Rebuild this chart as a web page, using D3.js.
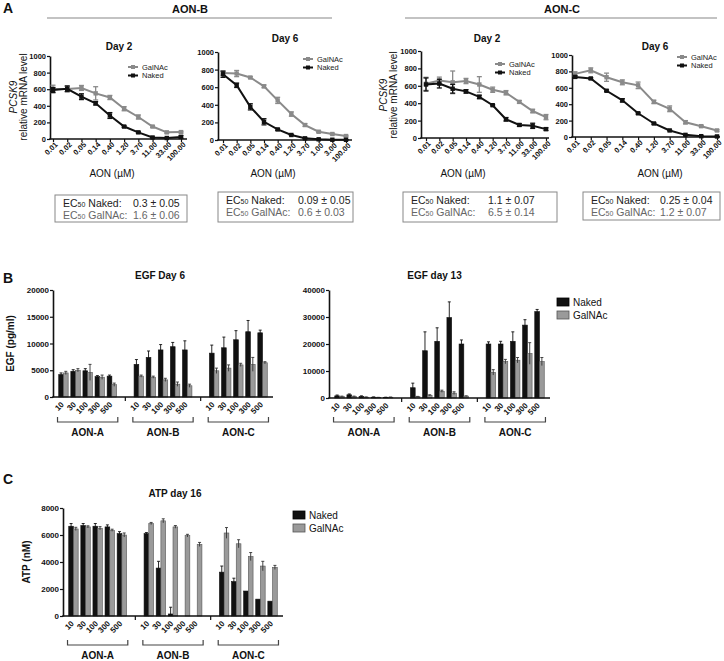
<!DOCTYPE html>
<html><head><meta charset="utf-8">
<script src="https://cdn.jsdelivr.net/npm/d3@7"></script>
<style>body{margin:0;background:#fff}</style>
</head><body><svg id="c" width="724" height="661"></svg>
<script>
// ---------------- DATA ----------------
const dosesA = ["0.01","0.02","0.05","0.14","0.40","1.20","3.70","11.00","33.00","100.00"];
const dosesA_B6 = ["0.01","0.02","0.05","0.14","0.40","1.20","3.70","1.00","3.00","100.00"];
const yTicksA = [0,200,400,600,800,1000];

const aonB_d2_galnac = [603,603,615,550,500,365,265,150,80,83];
const aonB_d2_galnacErr = [45,30,30,80,25,25,25,10,10,10];
const aonB_d2_naked = [590,605,510,430,283,150,80,18,12,25];
const aonB_d2_nakedErr = [30,35,35,20,35,10,10,5,5,15];

const aonB_d6_galnac = [760,755,710,610,450,295,170,94,68,45];
const aonB_d6_galnacErr = [25,35,10,15,35,25,15,10,8,8];
const aonB_d6_naked = [747,622,377,207,120,57,19,8,3,2];
const aonB_d6_nakedErr = [35,25,35,35,10,5,5,3,2,2];

const aonC_d2_galnac = [623,660,640,655,615,555,520,415,310,240];
const aonC_d2_galnacErr = [75,40,130,30,90,30,25,15,20,30];
const aonC_d2_naked = [615,625,566,536,472,377,215,150,140,102];
const aonC_d2_nakedErr = [75,50,50,20,20,8,20,15,30,15];

const aonC_d6_galnac = [770,813,729,667,630,428,344,180,132,80];
const aonC_d6_galnacErr = [25,30,50,30,40,20,35,20,10,10];
const aonC_d6_naked = [733,714,564,447,289,165,80,26,10,7];
const aonC_d6_nakedErr = [15,10,10,20,10,10,5,5,3,3];

const ec50Naked = ["0.3 ± 0.05","0.09 ± 0.05","1.1 ± 0.07","0.25 ± 0.04"];
const ec50GalNAc = ["1.6 ± 0.06","0.6 ± 0.03","6.5 ±  0.14","1.2 ± 0.07"];

const groups = ["AON-A","AON-B","AON-C"];
const doseB = ["10","30","100","300","500"];
const seriesNames = ["Naked","GalNAc"];

const egf6_naked    = [4200,4800,4900,3800,3900, 6100,7400,8800,9400,8800, 8200,9200,10700,12200,12000];
const egf6_nakedErr = [300,300,400,200,200, 900,1200,1000,800,1700, 1500,2000,1700,2100,500];
const egf6_galnac   = [4500,5000,4600,3700,2300, 3900,3700,3200,2400,2100, 4900,5400,6000,6100,6400];
const egf6_galnacErr= [300,300,1500,400,300, 200,200,300,400,300, 500,600,300,1300,200];
const egf6_ticks = [0,5000,10000,15000,20000];

const egf13_naked    = [800,1200,600,300,200, 3800,17500,21000,29800,20000, 20000,20000,21000,27000,32000];
const egf13_nakedErr = [300,300,200,100,100, 1700,7000,5000,5800,1500, 800,1000,3500,2000,800];
const egf13_galnac   = [600,600,300,200,300, 500,1000,2500,1800,700, 9500,13500,14000,16500,13500];
const egf13_galnacErr= [100,100,100,50,50, 100,200,400,500,100, 1000,800,1000,4000,1500];
const egf13_ticks = [0,10000,20000,30000,40000];

const atp_naked    = [6650,6700,6650,6600,6100, 6100,3550,150,0,0, 3250,2550,1850,1250,1100];
const atp_nakedErr = [200,150,200,150,150, 80,500,500,0,0, 450,250,0,0,0];
const atp_galnac   = [6450,6600,6500,6350,6000, 6850,7050,6600,5950,5300, 6150,5350,4400,3700,3600];
const atp_galnacErr= [120,80,120,80,150, 80,150,100,100,150, 400,300,300,350,150];
const atp_ticks = [0,2000,4000,6000,8000];

// ---------------- DRAWING ----------------
const FONT = '"Liberation Sans", Arial, Helvetica, sans-serif';
const svg = d3.select("#c");
svg.append("rect").attr("width",724).attr("height",661).attr("fill","#fff");
const GREY = "#8a8a8a", BLACK = "#111";
const fmt = d3.format("d");

function txt(x,y,s,size,opts={}) {
  const t = svg.append("text").attr("x",x).attr("y",y).attr("font-family",FONT)
    .attr("font-size",size).attr("fill",opts.fill||BLACK)
    .attr("font-weight",opts.bold?"bold":"normal")
    .attr("text-anchor",opts.anchor||"start");
  if (opts.italic) t.attr("font-style","italic");
  if (opts.rotate) t.attr("transform",`rotate(${opts.rotate},${x},${y})`);
  t.text(s);
  return t;
}
function styleAxis(sel,size){
  sel.attr("font-family",FONT);
  sel.selectAll("text").attr("font-family",FONT).attr("font-size",size).attr("font-weight","bold").attr("fill",BLACK);
  sel.selectAll(".tick line").attr("stroke",BLACK).attr("stroke-width",1.2);
  sel.select(".domain").attr("stroke",BLACK).attr("stroke-width",1.6);
}

// Panel letters and headers
txt(3,13,"A",14,{bold:true});
txt(3,283,"B",14,{bold:true});
txt(3,484,"C",14,{bold:true});
svg.append("line").attr("x1",47).attr("x2",332).attr("y1",18).attr("y2",18).attr("stroke","#888").attr("stroke-width",1.2);
txt(190,13,"AON-B",11,{bold:true,anchor:"middle"});
svg.append("line").attr("x1",405).attr("x2",717).attr("y1",18).attr("y2",18).attr("stroke","#888").attr("stroke-width",1.2);
txt(562,13,"AON-C",11,{bold:true,anchor:"middle"});

const LA = [
 {ax:50, ax1:187, p0:53, p1:181, yt:56, yb:139, tx:119, ty:50, title:"Day 2", lgx:128, lgy:67, axx:112, box:[55,195,132,27], vx:133, ylab:[17,27,97]},
 {ax:218, ax1:352, p0:223, p1:346, yt:52, yb:140, tx:285, ty:42, title:"Day 6", lgx:303, lgy:59, axx:273, box:[218,192,135,30], vx:298},
 {ax:421, ax1:549, p0:426, p1:546, yt:51, yb:138, tx:487, ty:42, title:"Day 2", lgx:495, lgy:64, axx:463, box:[403,192,154,30], vx:488, ylab:[387,397,95]},
 {ax:572, ax1:720, p0:575, p1:717, yt:55, yb:137, tx:655, ty:50, title:"Day 6", lgx:677, lgy:57, axx:660, box:[583,192,137,28], vx:660}
];

function drawCurve(L, labels, gal, galE, nak, nakE, ecN, ecG){
  const x = d3.scalePoint().domain(labels).range([L.p0,L.p1]);
  const y = d3.scaleLinear().domain([0,1000]).range([L.yb,L.yt]);
  const g = svg.append("g");
  const ya = g.append("g").attr("transform",`translate(${L.ax},0)`)
    .call(d3.axisLeft(y).tickValues(yTicksA).tickFormat(fmt).tickSize(3).tickPadding(1).tickSizeOuter(0));
  styleAxis(ya,7.5);
  const xa = g.append("g").attr("transform",`translate(0,${L.yb})`)
    .call(d3.axisBottom(x).tickSize(3).tickSizeOuter(0));
  xa.select(".domain").remove();
  styleAxis(xa,7.5);
  xa.selectAll("text").attr("x",-1).attr("y",5).attr("dy","0.35em")
    .attr("text-anchor","end").attr("transform","rotate(-45)");
  g.append("line").attr("x1",L.ax-0.8).attr("x2",L.ax1).attr("y1",L.yb).attr("y2",L.yb)
    .attr("stroke",BLACK).attr("stroke-width",1.6);

  function series(vals,errs,col){
    const pts = labels.map((l,i)=>({x:x(l),v:vals[i],e:errs[i]}));
    g.append("path").datum(pts).attr("d",d3.line().x(d=>d.x).y(d=>y(d.v)))
      .attr("fill","none").attr("stroke",col).attr("stroke-width",2);
    const eb = g.append("g").attr("stroke",col).attr("stroke-width",1.3);
    pts.forEach(d=>{
      eb.append("line").attr("x1",d.x).attr("x2",d.x).attr("y1",y(Math.max(0,d.v-d.e))).attr("y2",y(d.v+d.e));
      [d.v+d.e, Math.max(0,d.v-d.e)].forEach(v=>eb.append("line").attr("x1",d.x-2.5).attr("x2",d.x+2.5).attr("y1",y(v)).attr("y2",y(v)));
    });
    g.append("g").selectAll("rect").data(pts).join("rect")
      .attr("x",d=>d.x-2.2).attr("y",d=>y(d.v)-2.2).attr("width",4.4).attr("height",4.4).attr("fill",col);
  }
  series(gal,galE,GREY);
  series(nak,nakE,BLACK);

  txt(L.tx,L.ty,L.title,10,{bold:true,anchor:"middle"});
  // legend
  [[seriesNames[1],GREY,L.lgy],[seriesNames[0],BLACK,L.lgy+8.5]].forEach(([n,c,yy])=>{
    svg.append("line").attr("x1",L.lgx).attr("x2",L.lgx+10).attr("y1",yy).attr("y2",yy).attr("stroke",c).attr("stroke-width",2);
    svg.append("rect").attr("x",L.lgx+3).attr("y",yy-2).attr("width",4).attr("height",4).attr("fill",c);
    txt(L.lgx+14,yy+2.6,n,7.5,{fill:"#222"});
  });
  txt(L.axx,177,"AON (µM)",10,{anchor:"middle"});
  if (L.ylab){
    txt(L.ylab[0],L.ylab[2],"PCSK9",10,{italic:true,anchor:"middle",rotate:-90});
    txt(L.ylab[1],L.ylab[2],"relative mRNA level",10,{anchor:"middle",rotate:-90});
  }
  const b = L.box;
  svg.append("rect").attr("x",b[0]).attr("y",b[1]).attr("width",b[2]).attr("height",b[3])
    .attr("fill","none").attr("stroke","#888").attr("stroke-width",1);
  const lines = [["Naked:",ecN,"#222"],["GalNAc:",ecG,"#666"]];
  lines.forEach(([lab,val,col],i)=>{
    const yy = b[1]+11.5+i*12.5;
    const t = svg.append("text").attr("x",b[0]+8).attr("y",yy).attr("font-family",FONT).attr("font-size",10.5).attr("fill",col);
    t.append("tspan").text("EC");
    t.append("tspan").attr("font-size",7).text("50");
    t.append("tspan").text(" "+lab);
    txt(L.vx,yy,val,10.5,{fill:col});
  });
}
drawCurve(LA[0],dosesA,aonB_d2_galnac,aonB_d2_galnacErr,aonB_d2_naked,aonB_d2_nakedErr,ec50Naked[0],ec50GalNAc[0]);
drawCurve(LA[1],dosesA_B6,aonB_d6_galnac,aonB_d6_galnacErr,aonB_d6_naked,aonB_d6_nakedErr,ec50Naked[1],ec50GalNAc[1]);
drawCurve(LA[2],dosesA,aonC_d2_galnac,aonC_d2_galnacErr,aonC_d2_naked,aonC_d2_nakedErr,ec50Naked[2],ec50GalNAc[2]);
drawCurve(LA[3],dosesA,aonC_d6_galnac,aonC_d6_galnacErr,aonC_d6_naked,aonC_d6_nakedErr,ec50Naked[3],ec50GalNAc[3]);

// ---------- bar charts ----------
function drawBars(L, ticks, nak, nakE, gal, galE){
  const x0 = d3.scaleBand().domain(groups).range([L.ax,L.ax1]).paddingInner(0.2).paddingOuter(0.06);
  const x1 = d3.scaleBand().domain(doseB).range([0,x0.bandwidth()]).paddingInner(0.22).paddingOuter(0.1);
  const x2 = d3.scaleBand().domain(seriesNames).range([0,x1.bandwidth()]);
  const y = d3.scaleLinear().domain([0,ticks[ticks.length-1]]).range([L.yb,L.yt]);
  const g = svg.append("g");
  const data = [];
  groups.forEach((gr,gi)=>doseB.forEach((d,di)=>{
    const i = gi*5+di;
    data.push({gr,d,s:"Naked",v:nak[i],e:nakE[i]});
    data.push({gr,d,s:"GalNAc",v:gal[i],e:galE[i]});
  }));
  const bx = d=>x0(d.gr)+x1(d.d)+x2(d.s);
  g.selectAll("rect.bar").data(data).join("rect").attr("class","bar")
    .attr("x",bx).attr("width",x2.bandwidth())
    .attr("y",d=>y(d.v)).attr("height",d=>L.yb-y(d.v))
    .attr("fill",d=>d.s==="Naked"?BLACK:"#9a9a9a")
    .attr("stroke",d=>d.s==="Naked"?BLACK:"#555").attr("stroke-width",0.6);
  const eb = g.append("g");
  data.filter(d=>d.e>0).forEach(d=>{
    const cx = bx(d)+x2.bandwidth()/2;
    const col = d.s==="Naked"?BLACK:"#333";
    eb.append("line").attr("x1",cx).attr("x2",cx).attr("y1",y(Math.max(0,d.v-d.e))).attr("y2",y(d.v+d.e)).attr("stroke",col).attr("stroke-width",0.9);
    eb.append("line").attr("x1",cx-1.5).attr("x2",cx+1.5).attr("y1",y(d.v+d.e)).attr("y2",y(d.v+d.e)).attr("stroke",col).attr("stroke-width",0.9);
  });
  const ya = g.append("g").attr("transform",`translate(${L.ax},0)`)
    .call(d3.axisLeft(y).tickValues(ticks).tickFormat(fmt).tickSize(3).tickPadding(1).tickSizeOuter(0));
  styleAxis(ya,8);
  g.append("line").attr("x1",L.ax-0.8).attr("x2",L.ax1).attr("y1",L.yb).attr("y2",L.yb).attr("stroke",BLACK).attr("stroke-width",1.6);
  // gap ticks
  const step = x0.step();
  groups.slice(1).forEach(gr=>{
    const gx = x0(gr) - (step - x0.bandwidth())/2;
    g.append("line").attr("x1",gx).attr("x2",gx).attr("y1",L.yb).attr("y2",L.yb+4).attr("stroke",BLACK).attr("stroke-width",1.2);
  });
  // dose labels + brackets
  groups.forEach(gr=>{
    doseB.forEach(d=>{
      const cx = x0(gr)+x1(d)+x1.bandwidth()/2+1;
      const ty = L.yb+5;
      txt(cx,ty+3,d,8,{bold:true,anchor:"end",rotate:-45});
    });
    const gx0 = x0(gr), gx1 = x0(gr)+x0.bandwidth();
    g.append("path").attr("d",`M${gx0},${L.by-5}V${L.by}H${gx1}V${L.by-5}`)
      .attr("fill","none").attr("stroke","#444").attr("stroke-width",1.2);
    txt((gx0+gx1)/2,L.by+14,gr,10,{bold:true,anchor:"middle"});
  });
  txt((L.ax+L.ax1)/2+L.tdx,L.ty,L.title,10,{bold:true,anchor:"middle"});
  if (L.ylab) txt(L.ylab[0],(L.yt+L.yb)/2,L.ylab[1],10,{bold:true,anchor:"middle",rotate:-90});
  if (L.leg){
    [[seriesNames[0],BLACK,"#000"],[seriesNames[1],"#9a9a9a","#555"]].forEach(([n,c,s],i)=>{
      svg.append("rect").attr("x",L.leg[0]).attr("y",L.leg[1]+i*13).attr("width",12).attr("height",8).attr("fill",c).attr("stroke",s).attr("stroke-width",0.8);
      txt(L.leg[0]+16,L.leg[1]+i*13+8,n,10);
    });
  }
}
drawBars({ax:53,ax1:273,yt:290,yb:397,by:422,ty:279,tdx:-3,title:"EGF Day 6",ylab:[14,"EGF (pg/ml)"]},
  egf6_ticks,egf6_naked,egf6_nakedErr,egf6_galnac,egf6_galnacErr);
drawBars({ax:329,ax1:550,yt:290,yb:398,by:422,ty:279,tdx:-5,title:"EGF day 13",leg:[557,298]},
  egf13_ticks,egf13_naked,egf13_nakedErr,egf13_galnac,egf13_galnacErr);
drawBars({ax:63,ax1:283,yt:508,yb:616,by:645,ty:497,tdx:2,title:"ATP day 16",ylab:[30,"ATP (nM)"],leg:[293,511]},
  atp_ticks,atp_naked,atp_nakedErr,atp_galnac,atp_galnacErr);
</script></body></html>
